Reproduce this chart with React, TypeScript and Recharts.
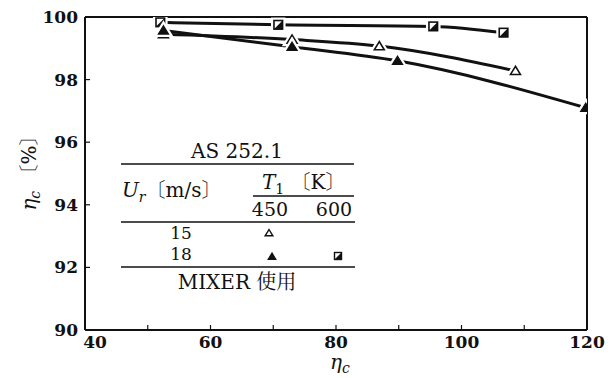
import React from 'react';
import { ComposedChart, Line, XAxis, YAxis } from 'recharts';

// Ur = 15 m/s, T1 = 450 K (open triangles)
const openX = [52.5, 73, 86.9, 108.6];
const openY = [99.45, 99.28, 99.07, 98.28];
// Ur = 18 m/s, T1 = 450 K (filled triangles)
const filledX = [52.5, 73, 89.8, 119.8];
const filledY = [99.57, 99.05, 98.6, 97.1];
// Ur = 18 m/s, T1 = 600 K (half-filled squares)
const squareX = [52, 70.8, 95.5, 106.7];
const squareY = [99.83, 99.75, 99.7, 99.5];

const xTicks = [40, 50, 60, 70, 80, 90, 100, 110, 120];
const xLabelTicks = [40, 60, 80, 100, 120];
const yTicks = [90, 92, 94, 96, 98, 100];
const yInnerTicks = [92, 94, 96, 98];

const zip = (xs: number[], ys: number[]) => xs.map((x, i) => ({ x, y: ys[i] }));
const openData = zip(openX, openY);
const filledData = zip(filledX, filledY);
const squareData = zip(squareX, squareY);

const SERIF = "'DejaVu Serif', 'Liberation Serif', 'Noto Serif CJK JP', 'Noto Sans CJK JP', serif";
const INK = '#111';

const triPts = (cx: number, cy: number, s: number) =>
  `${cx},${cy - s} ${cx - s * 1.1},${cy + s * 0.8} ${cx + s * 1.1},${cy + s * 0.8}`;

const OpenTri = (p: any) => {
  const { cx, cy, index } = p;
  if (cx == null || cy == null) return <g key={`o${index}`} />;
  const pts = triPts(cx, cy, 4.5);
  return (
    <g key={`o${index}`}>
      <polygon points={pts} fill="#fff" stroke="#fff" strokeWidth={6} />
      <polygon points={pts} fill="#fff" stroke={INK} strokeWidth={1.6} />
    </g>
  );
};

const FilledTri = (p: any) => {
  const { cx, cy, index } = p;
  if (cx == null || cy == null) return <g key={`f${index}`} />;
  const pts = triPts(cx, cy, 4.5);
  return (
    <g key={`f${index}`}>
      <polygon points={pts} fill="#fff" stroke="#fff" strokeWidth={6} />
      <polygon points={pts} fill={INK} stroke={INK} strokeWidth={1.4} />
    </g>
  );
};

const HalfSquare = (p: any) => {
  const { cx, cy, index } = p;
  if (cx == null || cy == null) return <g key={`s${index}`} />;
  const s = 4.3;
  return (
    <g key={`s${index}`}>
      <rect x={cx - s} y={cy - s} width={2 * s} height={2 * s} fill="#fff" stroke="#fff" strokeWidth={6} />
      <rect x={cx - s} y={cy - s} width={2 * s} height={2 * s} fill="#fff" stroke={INK} strokeWidth={1.6} />
      <polygon points={`${cx + s},${cy - s} ${cx + s},${cy + s} ${cx - s},${cy + s}`} fill={INK} />
    </g>
  );
};

const XTick = (p: any) => {
  const { x, y, payload } = p;
  if (!xLabelTicks.includes(payload.value)) return <g />;
  const dx = payload.value === 40 ? 10 : 0;
  return (
    <text x={x + dx} y={y} textAnchor="middle" fontFamily={SERIF} fontWeight="bold" fontSize={17} fill={INK}>
      {payload.value}
    </text>
  );
};

const YTick = (p: any) => {
  const { x, y, payload } = p;
  return (
    <text x={x} y={y} dy={6} textAnchor="end" fontFamily={SERIF} fontWeight="bold" fontSize={17} fill={INK}>
      {payload.value}
    </text>
  );
};

const Overlay = () => {
  const lineStyle = { stroke: INK, strokeWidth: 1.4 };
  return (
    <svg
      width={615}
      height={378}
      style={{ position: 'absolute', left: 0, top: 0, pointerEvents: 'none' }}
    >
      {/* axis titles */}
      <text
        x={36}
        y={168}
        transform="rotate(-90 36 168)"
        textAnchor="middle"
        fontFamily={SERIF}
        fontSize={20}
        fill={INK}
      >
        <tspan fontStyle="italic">η</tspan>
        <tspan fontStyle="italic" fontSize={14} dy={4}>c</tspan>
        <tspan dy={-4}> 〔%〕</tspan>
      </text>
      <text x={340} y={369} textAnchor="middle" fontFamily={SERIF} fontSize={20} fill={INK}>
        <tspan fontStyle="italic">η</tspan>
        <tspan fontStyle="italic" fontSize={14} dy={4}>c</tspan>
      </text>

      {/* legend table */}
      <g fontFamily={SERIF} fill={INK}>
        <text x={237} y={158} textAnchor="middle" fontSize={20}>AS 252.1</text>
        <line x1={121} x2={354} y1={164} y2={164} {...lineStyle} />
        <text x={122} y={197} fontSize={20}>
          <tspan fontStyle="italic">U</tspan>
          <tspan fontStyle="italic" fontSize={14} dy={5}>r</tspan>
          <tspan dy={-5}>〔m/s〕</tspan>
        </text>
        <text x={262} y={189} fontSize={20}>
          <tspan fontStyle="italic">T</tspan>
          <tspan fontSize={14} dy={5}>1</tspan>
          <tspan dy={-5}> 〔K〕</tspan>
        </text>
        <line x1={253} x2={354} y1={196} y2={196} {...lineStyle} />
        <text x={270} y={216} textAnchor="middle" fontSize={19}>450</text>
        <text x={334} y={216} textAnchor="middle" fontSize={19}>600</text>
        <line x1={121} x2={355} y1={222} y2={222} {...lineStyle} />
        <text x={181} y={239} textAnchor="middle" fontSize={17}>15</text>
        <text x={181} y={260} textAnchor="middle" fontSize={17}>18</text>
        <polygon points={triPts(269, 233, 3.5)} fill="#fff" stroke={INK} strokeWidth={1.4} />
        <polygon points={triPts(272, 256.5, 3.5)} fill={INK} stroke={INK} strokeWidth={1.2} />
        <rect x={334.5} y={252.5} width={7} height={7} fill="#fff" stroke={INK} strokeWidth={1.4} />
        <polygon points={`341.5,252.5 341.5,259.5 334.5,259.5`} fill={INK} />
        <line x1={121} x2={355} y1={267} y2={267} {...lineStyle} />
        <text x={237} y={289} textAnchor="middle" fontSize={20}>MIXER 使用</text>
      </g>
    </svg>
  );
};

export default function App() {
  return (
    <div style={{ position: 'absolute', left: 0, top: 0, width: 615, height: 378, background: '#fff' }}>
      <ComposedChart
        width={615}
        height={378}
        margin={{ top: 16, right: 27, bottom: 47, left: 84 }}
      >
        <XAxis
          xAxisId={0}
          type="number"
          dataKey="x"
          domain={[40, 120]}
          ticks={xTicks}
          allowDataOverflow
          orientation="bottom"
          height={1}
          tickSize={-5}
          tickMargin={23}
          tick={<XTick />}
          axisLine={{ stroke: INK, strokeWidth: 2 }}
          tickLine={{ stroke: INK, strokeWidth: 1.2 }}
        />
        <XAxis
          xAxisId="top"
          type="number"
          dataKey="x"
          domain={[40, 120]}
          ticks={[50, 60, 70, 80, 90, 100, 110]}
          allowDataOverflow
          orientation="top"
          height={1}
          tickSize={-5}
          tick={false}
          axisLine={{ stroke: INK, strokeWidth: 2 }}
          tickLine={{ stroke: INK, strokeWidth: 1.2 }}
        />
        <YAxis
          yAxisId={0}
          type="number"
          domain={[90, 100]}
          ticks={yTicks}
          allowDataOverflow
          orientation="left"
          width={1}
          tickSize={-5}
          tickMargin={12}
          tick={<YTick />}
          axisLine={{ stroke: INK, strokeWidth: 2 }}
          tickLine={{ stroke: INK, strokeWidth: 1.2 }}
        />
        <YAxis
          yAxisId="r"
          type="number"
          domain={[90, 100]}
          ticks={yInnerTicks}
          allowDataOverflow
          orientation="right"
          width={1}
          tickSize={-5}
          tick={false}
          axisLine={{ stroke: INK, strokeWidth: 2 }}
          tickLine={{ stroke: INK, strokeWidth: 1.2 }}
        />
        <Line
          data={squareData}
          dataKey="y"
          type="monotone"
          stroke={INK}
          strokeWidth={3}
          dot={HalfSquare}
          isAnimationActive={false}
        />
        <Line
          data={openData}
          dataKey="y"
          type="monotone"
          stroke={INK}
          strokeWidth={3}
          dot={OpenTri}
          isAnimationActive={false}
        />
        <Line
          data={filledData}
          dataKey="y"
          type="monotone"
          stroke={INK}
          strokeWidth={3}
          dot={FilledTri}
          isAnimationActive={false}
        />
      </ComposedChart>
      <Overlay />
    </div>
  );
}
